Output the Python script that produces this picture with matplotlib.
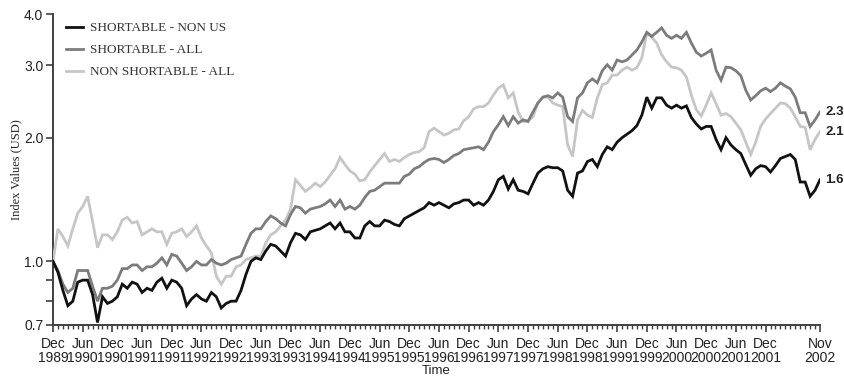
import matplotlib
matplotlib.use("Agg")
import matplotlib.pyplot as plt
import pandas as pd

# monthly index values, Dec 1989 .. Nov 2002
months = pd.date_range("1989-12-01", "2002-11-01", freq="MS")

shortable_non_us = [
    1.00, 0.94, 0.85, 0.78, 0.80, 0.89, 0.90, 0.90, 0.83, 0.71,
    0.82, 0.79, 0.80, 0.82, 0.88, 0.86, 0.89, 0.88, 0.84, 0.86,
    0.85, 0.89, 0.91, 0.86, 0.90, 0.89, 0.86, 0.78, 0.81, 0.83,
    0.81, 0.80, 0.84, 0.82, 0.77, 0.79, 0.80, 0.80, 0.85, 0.93,
    1.00, 1.02, 1.01, 1.06, 1.10, 1.09, 1.06, 1.03, 1.11, 1.17,
    1.16, 1.13, 1.18, 1.19, 1.20, 1.22, 1.24, 1.20, 1.24, 1.18,
    1.18, 1.14, 1.14, 1.22, 1.25, 1.22, 1.22, 1.26, 1.25, 1.23,
    1.22, 1.27, 1.29, 1.31, 1.33, 1.35, 1.39, 1.37, 1.39, 1.37,
    1.35, 1.38, 1.39, 1.41, 1.41, 1.37, 1.39, 1.37, 1.41, 1.48,
    1.58, 1.61, 1.50, 1.58, 1.49, 1.48, 1.46, 1.55, 1.64, 1.68,
    1.70, 1.69, 1.69, 1.66, 1.49, 1.44, 1.64, 1.66, 1.75, 1.77,
    1.70, 1.82, 1.90, 1.87, 1.95, 2.00, 2.04, 2.08, 2.14, 2.27,
    2.51, 2.36, 2.50, 2.50, 2.40, 2.36, 2.40, 2.36, 2.39, 2.24,
    2.16, 2.10, 2.13, 2.13, 1.98, 1.87, 2.00, 1.92, 1.87, 1.83,
    1.72, 1.62, 1.68, 1.71, 1.70, 1.65, 1.71, 1.78, 1.80, 1.82,
    1.77, 1.56, 1.56, 1.44, 1.49, 1.58,
]

shortable_all = [
    1.00, 0.95, 0.88, 0.84, 0.86, 0.95, 0.95, 0.95, 0.87, 0.80,
    0.86, 0.86, 0.87, 0.90, 0.96, 0.96, 0.98, 0.98, 0.95, 0.97,
    0.97, 0.99, 1.02, 0.98, 1.04, 1.03, 0.99, 0.95, 0.97, 1.00,
    0.98, 0.98, 1.01, 0.99, 0.98, 0.99, 1.01, 1.02, 1.03, 1.10,
    1.17, 1.20, 1.20, 1.25, 1.29, 1.27, 1.24, 1.22, 1.30, 1.36,
    1.35, 1.31, 1.34, 1.35, 1.36, 1.38, 1.41, 1.36, 1.41, 1.34,
    1.36, 1.34, 1.37, 1.43, 1.48, 1.49, 1.52, 1.55, 1.55, 1.55,
    1.55, 1.61, 1.63, 1.68, 1.70, 1.74, 1.77, 1.78, 1.77, 1.74,
    1.77, 1.81, 1.83, 1.87, 1.88, 1.89, 1.90, 1.87, 1.95, 2.07,
    2.15, 2.25, 2.14, 2.25, 2.17, 2.21, 2.19, 2.31, 2.43, 2.51,
    2.53, 2.50, 2.57, 2.51, 2.25, 2.19, 2.50, 2.57, 2.72, 2.78,
    2.72, 2.91, 3.01, 2.92, 3.09, 3.06, 3.09, 3.18, 3.27, 3.42,
    3.61, 3.53, 3.61, 3.70, 3.55, 3.49, 3.55, 3.49, 3.61, 3.40,
    3.23, 3.16, 3.21, 3.27, 2.92, 2.76, 2.97, 2.96, 2.91, 2.83,
    2.61, 2.47, 2.53, 2.60, 2.64, 2.59, 2.64, 2.72, 2.67, 2.63,
    2.51, 2.30, 2.30, 2.13, 2.21, 2.31,
]

non_shortable_all = [
    1.00, 1.20, 1.15, 1.09, 1.20, 1.31, 1.36, 1.44, 1.25, 1.08,
    1.16, 1.16, 1.13, 1.18, 1.26, 1.28, 1.24, 1.25, 1.16, 1.18,
    1.20, 1.18, 1.18, 1.10, 1.17, 1.18, 1.20, 1.15, 1.18, 1.22,
    1.14, 1.09, 1.05, 0.92, 0.88, 0.92, 0.92, 0.97, 0.98, 1.01,
    1.02, 1.03, 1.03, 1.11, 1.16, 1.18, 1.22, 1.26, 1.34, 1.58,
    1.53, 1.48, 1.51, 1.55, 1.52, 1.56, 1.62, 1.68, 1.79, 1.72,
    1.66, 1.63, 1.57, 1.58, 1.65, 1.71, 1.77, 1.83, 1.75, 1.77,
    1.75, 1.79, 1.82, 1.84, 1.85, 1.89, 2.07, 2.11, 2.07, 2.03,
    2.05, 2.09, 2.10, 2.20, 2.25, 2.35, 2.38, 2.38, 2.43, 2.54,
    2.64, 2.69, 2.50, 2.57, 2.31, 2.19, 2.20, 2.25, 2.43, 2.51,
    2.51, 2.43, 2.40, 2.38, 1.92, 1.80, 2.21, 2.33, 2.27, 2.24,
    2.50, 2.69, 2.72, 2.84, 2.84, 2.92, 2.97, 2.92, 2.96, 3.13,
    3.59, 3.51, 3.40, 3.18, 3.06, 2.97, 2.96, 2.92, 2.81, 2.54,
    2.34, 2.26, 2.40, 2.57, 2.42, 2.27, 2.29, 2.25, 2.17, 2.09,
    1.95, 1.82, 1.95, 2.13, 2.22, 2.29, 2.36, 2.43, 2.42, 2.36,
    2.25, 2.13, 2.12, 1.87, 1.98, 2.07,
]

series_names = ["SHORTABLE - NON US", "SHORTABLE - ALL", "NON SHORTABLE - ALL"]
series_colors = ["#111111", "#7c7c7c", "#c6c6c6"]
end_labels = ["1.6", "2.3", "2.1"]

y_ticks = [0.7, 1.0, 2.0, 3.0, 4.0]
y_minor = [0.8, 0.9]

SERIF = ["Liberation Serif", "DejaVu Serif"]
SANS = ["Liberation Sans", "DejaVu Sans"]
AXC = "#404040"

fig = plt.figure(figsize=(8.44, 3.82), dpi=100)
ax = fig.add_axes([53 / 844, 1 - 325 / 382, (820 - 53) / 844, (325 - 14) / 382])

x = list(range(len(months)))
all_series = [shortable_non_us, shortable_all, non_shortable_all]
zs = [5, 4, 3]
for vals, name, col, z in zip(all_series, series_names, series_colors, zs):
    ax.plot(x, vals, color=col, lw=2.0, label=name, zorder=z,
            solid_joinstyle="miter")

# value labels at the right end of each line
for vals, lab in zip(all_series, end_labels):
    ax.annotate(lab, xy=(x[-1], vals[-1]), xytext=(4, 0),
                textcoords="offset points", ha="left", va="center",
                fontsize=9.5, fontweight="bold", family=SANS, color="#222222",
                annotation_clip=False)

ax.set_yscale("log")
ax.set_ylim(0.7, 4.0)
ax.set_xlim(0, len(months) - 1)
ax.set_yticks(y_ticks)
ax.set_yticklabels([f"{v:.1f}" for v in y_ticks])
ax.set_yticks(y_minor, minor=True)
ax.set_yticklabels([], minor=True)

# x ticks: every month minor, Dec/Jun major, plus the final month
major = [i for i, d in enumerate(months) if d.month in (6, 12) and i <= 144]
major.append(len(months) - 1)
ax.set_xticks(major)
ax.set_xticklabels([f"{months[i]:%b}\n{months[i]:%Y}" for i in major])
ax.set_xticks(x, minor=True)

for sp in ["top", "right"]:
    ax.spines[sp].set_visible(False)
for sp in ["left", "bottom"]:
    ax.spines[sp].set_color(AXC)
    ax.spines[sp].set_linewidth(1.4)

ax.tick_params(axis="both", which="major", length=5, width=1.2, color=AXC,
               labelsize=10, labelcolor="#222222")
ax.tick_params(axis="x", which="major", pad=4)
ax.tick_params(axis="y", which="major", pad=2)
ax.tick_params(axis="x", which="minor", length=3, width=1.0, color=AXC)
ax.tick_params(axis="y", which="minor", length=5, width=1.2, color=AXC)
for t in ax.get_xticklabels() + ax.get_yticklabels():
    t.set_family(SANS)
for t in ax.get_xticklabels():
    t.set_linespacing(0.95)

ax.set_xlabel("Time", fontsize=9.5, family=SANS, color="#222222", labelpad=0)
ax.set_ylabel("Index Values (USD)", fontsize=9, family=SERIF,
              color="#222222", labelpad=1)

leg = ax.legend(loc="upper left", bbox_to_anchor=(0.007, 1.0), frameon=False,
                prop={"family": SERIF, "size": 9.5}, handlelength=1.3,
                handletextpad=0.5, labelspacing=0.75, borderaxespad=0.2)
for t in leg.get_texts():
    t.set_color("#333333")

fig.savefig("out.png", dpi=100)
